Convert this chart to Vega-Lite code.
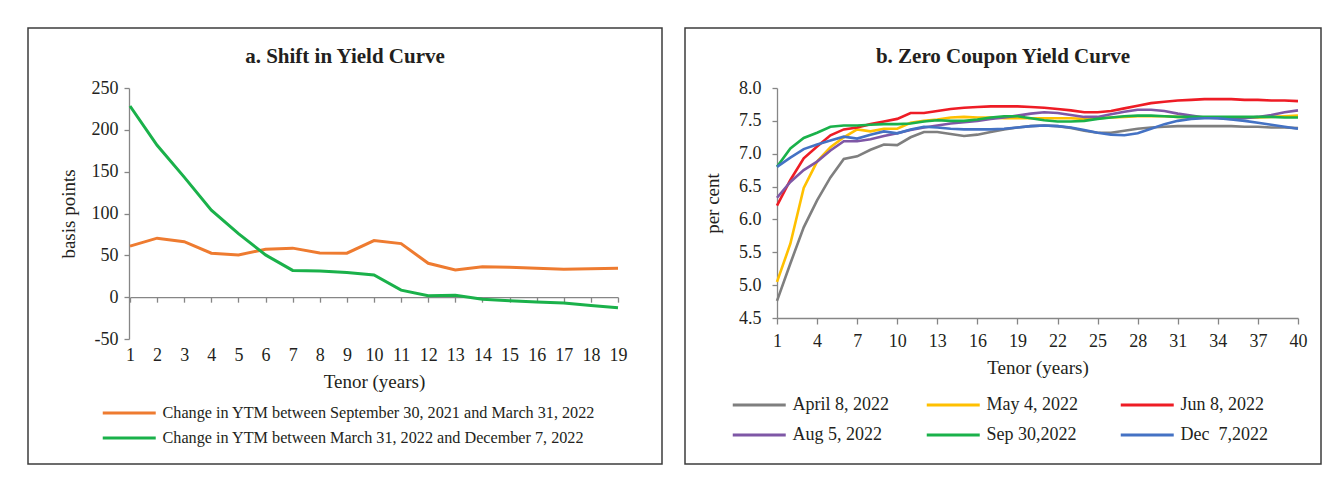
{
  "$schema": "https://vega.github.io/schema/vega-lite/v6.json",
  "background": "white",
  "padding": {"left": 27, "top": 27, "right": 0, "bottom": 0},
  "spacing": 21,
  "config": {
    "view": {"stroke": "#3c3c3c", "strokeWidth": 1.5},
    "font": "Liberation Serif",
    "axis": {"grid": false, "domainColor": "#868686", "tickColor": "#868686", "domainWidth": 1.3, "tickWidth": 1.3, "labelFont": "Liberation Serif", "labelFontSize": 18, "labelColor": "#231f20", "titleFont": "Liberation Serif", "titleFontSize": 19, "titleFontWeight": "normal", "titleColor": "#231f20", "labelFlush": false, "labelOverlap": false},
    "legend": {"labelFont": "Liberation Serif", "labelFontSize": 18, "labelColor": "#231f20", "symbolStrokeWidth": 3, "labelLimit": 600, "symbolType": "M-1,0H3", "symbolSize": 702, "symbolFillColor": "transparent", "labelOffset": 31.5},
    "title": {"font": "Liberation Serif", "fontSize": 21, "fontWeight": "bold", "color": "#231f20", "anchor": "middle", "frame": "group"}
  },
  "datasets": {
    "shift": [
      {"tenor": 1, "series": "Change in YTM between September 30, 2021 and March 31, 2022", "bps": 61},
      {"tenor": 2, "series": "Change in YTM between September 30, 2021 and March 31, 2022", "bps": 70.5},
      {"tenor": 3, "series": "Change in YTM between September 30, 2021 and March 31, 2022", "bps": 66.3},
      {"tenor": 4, "series": "Change in YTM between September 30, 2021 and March 31, 2022", "bps": 52.5},
      {"tenor": 5, "series": "Change in YTM between September 30, 2021 and March 31, 2022", "bps": 50.5},
      {"tenor": 6, "series": "Change in YTM between September 30, 2021 and March 31, 2022", "bps": 57.2},
      {"tenor": 7, "series": "Change in YTM between September 30, 2021 and March 31, 2022", "bps": 58.6},
      {"tenor": 8, "series": "Change in YTM between September 30, 2021 and March 31, 2022", "bps": 52.9},
      {"tenor": 9, "series": "Change in YTM between September 30, 2021 and March 31, 2022", "bps": 52.6},
      {"tenor": 10, "series": "Change in YTM between September 30, 2021 and March 31, 2022", "bps": 67.6},
      {"tenor": 11, "series": "Change in YTM between September 30, 2021 and March 31, 2022", "bps": 64},
      {"tenor": 12, "series": "Change in YTM between September 30, 2021 and March 31, 2022", "bps": 40.5},
      {"tenor": 13, "series": "Change in YTM between September 30, 2021 and March 31, 2022", "bps": 32.6},
      {"tenor": 14, "series": "Change in YTM between September 30, 2021 and March 31, 2022", "bps": 36.4},
      {"tenor": 15, "series": "Change in YTM between September 30, 2021 and March 31, 2022", "bps": 35.8},
      {"tenor": 16, "series": "Change in YTM between September 30, 2021 and March 31, 2022", "bps": 34.6},
      {"tenor": 17, "series": "Change in YTM between September 30, 2021 and March 31, 2022", "bps": 33.4},
      {"tenor": 18, "series": "Change in YTM between September 30, 2021 and March 31, 2022", "bps": 34.1},
      {"tenor": 19, "series": "Change in YTM between September 30, 2021 and March 31, 2022", "bps": 34.6},
      {"tenor": 1, "series": "Change in YTM between March 31, 2022 and December 7, 2022", "bps": 228.5},
      {"tenor": 2, "series": "Change in YTM between March 31, 2022 and December 7, 2022", "bps": 181.6},
      {"tenor": 3, "series": "Change in YTM between March 31, 2022 and December 7, 2022", "bps": 143.5},
      {"tenor": 4, "series": "Change in YTM between March 31, 2022 and December 7, 2022", "bps": 104},
      {"tenor": 5, "series": "Change in YTM between March 31, 2022 and December 7, 2022", "bps": 76},
      {"tenor": 6, "series": "Change in YTM between March 31, 2022 and December 7, 2022", "bps": 50.5},
      {"tenor": 7, "series": "Change in YTM between March 31, 2022 and December 7, 2022", "bps": 32},
      {"tenor": 8, "series": "Change in YTM between March 31, 2022 and December 7, 2022", "bps": 31.4},
      {"tenor": 9, "series": "Change in YTM between March 31, 2022 and December 7, 2022", "bps": 29.4},
      {"tenor": 10, "series": "Change in YTM between March 31, 2022 and December 7, 2022", "bps": 26.6},
      {"tenor": 11, "series": "Change in YTM between March 31, 2022 and December 7, 2022", "bps": 8.4},
      {"tenor": 12, "series": "Change in YTM between March 31, 2022 and December 7, 2022", "bps": 1.6},
      {"tenor": 13, "series": "Change in YTM between March 31, 2022 and December 7, 2022", "bps": 2.4},
      {"tenor": 14, "series": "Change in YTM between March 31, 2022 and December 7, 2022", "bps": -2.4},
      {"tenor": 15, "series": "Change in YTM between March 31, 2022 and December 7, 2022", "bps": -4.4},
      {"tenor": 16, "series": "Change in YTM between March 31, 2022 and December 7, 2022", "bps": -5.9},
      {"tenor": 17, "series": "Change in YTM between March 31, 2022 and December 7, 2022", "bps": -7.1},
      {"tenor": 18, "series": "Change in YTM between March 31, 2022 and December 7, 2022", "bps": -9.9},
      {"tenor": 19, "series": "Change in YTM between March 31, 2022 and December 7, 2022", "bps": -12.7}
    ],
    "zcyc": [
      {"t":1,"d":"April 8, 2022","y":4.76},{"t":2,"d":"April 8, 2022","y":5.33},{"t":3,"d":"April 8, 2022","y":5.88},{"t":4,"d":"April 8, 2022","y":6.29},{"t":5,"d":"April 8, 2022","y":6.64},{"t":6,"d":"April 8, 2022","y":6.92},{"t":7,"d":"April 8, 2022","y":6.96},{"t":8,"d":"April 8, 2022","y":7.06},{"t":9,"d":"April 8, 2022","y":7.14},{"t":10,"d":"April 8, 2022","y":7.13},
      {"t":11,"d":"April 8, 2022","y":7.25},{"t":12,"d":"April 8, 2022","y":7.33},{"t":13,"d":"April 8, 2022","y":7.33},{"t":14,"d":"April 8, 2022","y":7.3},{"t":15,"d":"April 8, 2022","y":7.27},{"t":16,"d":"April 8, 2022","y":7.29},{"t":17,"d":"April 8, 2022","y":7.33},{"t":18,"d":"April 8, 2022","y":7.37},{"t":19,"d":"April 8, 2022","y":7.4},{"t":20,"d":"April 8, 2022","y":7.42},
      {"t":21,"d":"April 8, 2022","y":7.43},{"t":22,"d":"April 8, 2022","y":7.42},{"t":23,"d":"April 8, 2022","y":7.39},{"t":24,"d":"April 8, 2022","y":7.35},{"t":25,"d":"April 8, 2022","y":7.32},{"t":26,"d":"April 8, 2022","y":7.32},{"t":27,"d":"April 8, 2022","y":7.35},{"t":28,"d":"April 8, 2022","y":7.38},{"t":29,"d":"April 8, 2022","y":7.4},{"t":30,"d":"April 8, 2022","y":7.41},
      {"t":31,"d":"April 8, 2022","y":7.42},{"t":32,"d":"April 8, 2022","y":7.42},{"t":33,"d":"April 8, 2022","y":7.42},{"t":34,"d":"April 8, 2022","y":7.42},{"t":35,"d":"April 8, 2022","y":7.42},{"t":36,"d":"April 8, 2022","y":7.41},{"t":37,"d":"April 8, 2022","y":7.41},{"t":38,"d":"April 8, 2022","y":7.4},{"t":39,"d":"April 8, 2022","y":7.4},{"t":40,"d":"April 8, 2022","y":7.39},

      {"t":1,"d":"May 4, 2022","y":5.05},{"t":2,"d":"May 4, 2022","y":5.63},{"t":3,"d":"May 4, 2022","y":6.48},{"t":4,"d":"May 4, 2022","y":6.88},{"t":5,"d":"May 4, 2022","y":7.1},{"t":6,"d":"May 4, 2022","y":7.25},{"t":7,"d":"May 4, 2022","y":7.37},{"t":8,"d":"May 4, 2022","y":7.34},{"t":9,"d":"May 4, 2022","y":7.38},{"t":10,"d":"May 4, 2022","y":7.38},
      {"t":11,"d":"May 4, 2022","y":7.47},{"t":12,"d":"May 4, 2022","y":7.5},{"t":13,"d":"May 4, 2022","y":7.52},{"t":14,"d":"May 4, 2022","y":7.55},{"t":15,"d":"May 4, 2022","y":7.56},{"t":16,"d":"May 4, 2022","y":7.55},{"t":17,"d":"May 4, 2022","y":7.55},{"t":18,"d":"May 4, 2022","y":7.54},{"t":19,"d":"May 4, 2022","y":7.54},{"t":20,"d":"May 4, 2022","y":7.54},
      {"t":21,"d":"May 4, 2022","y":7.54},{"t":22,"d":"May 4, 2022","y":7.54},{"t":23,"d":"May 4, 2022","y":7.54},{"t":24,"d":"May 4, 2022","y":7.53},{"t":25,"d":"May 4, 2022","y":7.54},{"t":26,"d":"May 4, 2022","y":7.55},{"t":27,"d":"May 4, 2022","y":7.56},{"t":28,"d":"May 4, 2022","y":7.57},{"t":29,"d":"May 4, 2022","y":7.57},{"t":30,"d":"May 4, 2022","y":7.57},
      {"t":31,"d":"May 4, 2022","y":7.56},{"t":32,"d":"May 4, 2022","y":7.55},{"t":33,"d":"May 4, 2022","y":7.55},{"t":34,"d":"May 4, 2022","y":7.55},{"t":35,"d":"May 4, 2022","y":7.55},{"t":36,"d":"May 4, 2022","y":7.55},{"t":37,"d":"May 4, 2022","y":7.55},{"t":38,"d":"May 4, 2022","y":7.56},{"t":39,"d":"May 4, 2022","y":7.57},{"t":40,"d":"May 4, 2022","y":7.58},

      {"t":1,"d":"Jun 8, 2022","y":6.21},{"t":2,"d":"Jun 8, 2022","y":6.6},{"t":3,"d":"Jun 8, 2022","y":6.93},{"t":4,"d":"Jun 8, 2022","y":7.11},{"t":5,"d":"Jun 8, 2022","y":7.28},{"t":6,"d":"Jun 8, 2022","y":7.37},{"t":7,"d":"Jun 8, 2022","y":7.4},{"t":8,"d":"Jun 8, 2022","y":7.45},{"t":9,"d":"Jun 8, 2022","y":7.49},{"t":10,"d":"Jun 8, 2022","y":7.53},
      {"t":11,"d":"Jun 8, 2022","y":7.62},{"t":12,"d":"Jun 8, 2022","y":7.62},{"t":13,"d":"Jun 8, 2022","y":7.65},{"t":14,"d":"Jun 8, 2022","y":7.68},{"t":15,"d":"Jun 8, 2022","y":7.7},{"t":16,"d":"Jun 8, 2022","y":7.71},{"t":17,"d":"Jun 8, 2022","y":7.72},{"t":18,"d":"Jun 8, 2022","y":7.72},{"t":19,"d":"Jun 8, 2022","y":7.72},{"t":20,"d":"Jun 8, 2022","y":7.71},
      {"t":21,"d":"Jun 8, 2022","y":7.7},{"t":22,"d":"Jun 8, 2022","y":7.68},{"t":23,"d":"Jun 8, 2022","y":7.66},{"t":24,"d":"Jun 8, 2022","y":7.63},{"t":25,"d":"Jun 8, 2022","y":7.63},{"t":26,"d":"Jun 8, 2022","y":7.65},{"t":27,"d":"Jun 8, 2022","y":7.69},{"t":28,"d":"Jun 8, 2022","y":7.73},{"t":29,"d":"Jun 8, 2022","y":7.77},{"t":30,"d":"Jun 8, 2022","y":7.79},
      {"t":31,"d":"Jun 8, 2022","y":7.81},{"t":32,"d":"Jun 8, 2022","y":7.82},{"t":33,"d":"Jun 8, 2022","y":7.83},{"t":34,"d":"Jun 8, 2022","y":7.83},{"t":35,"d":"Jun 8, 2022","y":7.83},{"t":36,"d":"Jun 8, 2022","y":7.82},{"t":37,"d":"Jun 8, 2022","y":7.82},{"t":38,"d":"Jun 8, 2022","y":7.81},{"t":39,"d":"Jun 8, 2022","y":7.81},{"t":40,"d":"Jun 8, 2022","y":7.8},

      {"t":1,"d":"Aug 5, 2022","y":6.33},{"t":2,"d":"Aug 5, 2022","y":6.57},{"t":3,"d":"Aug 5, 2022","y":6.75},{"t":4,"d":"Aug 5, 2022","y":6.88},{"t":5,"d":"Aug 5, 2022","y":7.05},{"t":6,"d":"Aug 5, 2022","y":7.19},{"t":7,"d":"Aug 5, 2022","y":7.19},{"t":8,"d":"Aug 5, 2022","y":7.22},{"t":9,"d":"Aug 5, 2022","y":7.27},{"t":10,"d":"Aug 5, 2022","y":7.31},
      {"t":11,"d":"Aug 5, 2022","y":7.36},{"t":12,"d":"Aug 5, 2022","y":7.4},{"t":13,"d":"Aug 5, 2022","y":7.43},{"t":14,"d":"Aug 5, 2022","y":7.46},{"t":15,"d":"Aug 5, 2022","y":7.48},{"t":16,"d":"Aug 5, 2022","y":7.5},{"t":17,"d":"Aug 5, 2022","y":7.53},{"t":18,"d":"Aug 5, 2022","y":7.55},{"t":19,"d":"Aug 5, 2022","y":7.58},{"t":20,"d":"Aug 5, 2022","y":7.61},
      {"t":21,"d":"Aug 5, 2022","y":7.63},{"t":22,"d":"Aug 5, 2022","y":7.62},{"t":23,"d":"Aug 5, 2022","y":7.59},{"t":24,"d":"Aug 5, 2022","y":7.56},{"t":25,"d":"Aug 5, 2022","y":7.56},{"t":26,"d":"Aug 5, 2022","y":7.6},{"t":27,"d":"Aug 5, 2022","y":7.64},{"t":28,"d":"Aug 5, 2022","y":7.67},{"t":29,"d":"Aug 5, 2022","y":7.67},{"t":30,"d":"Aug 5, 2022","y":7.65},
      {"t":31,"d":"Aug 5, 2022","y":7.61},{"t":32,"d":"Aug 5, 2022","y":7.58},{"t":33,"d":"Aug 5, 2022","y":7.55},{"t":34,"d":"Aug 5, 2022","y":7.54},{"t":35,"d":"Aug 5, 2022","y":7.53},{"t":36,"d":"Aug 5, 2022","y":7.54},{"t":37,"d":"Aug 5, 2022","y":7.56},{"t":38,"d":"Aug 5, 2022","y":7.59},{"t":39,"d":"Aug 5, 2022","y":7.63},{"t":40,"d":"Aug 5, 2022","y":7.66},

      {"t":1,"d":"Sep 30,2022","y":6.8},{"t":2,"d":"Sep 30,2022","y":7.08},{"t":3,"d":"Sep 30,2022","y":7.24},{"t":4,"d":"Sep 30,2022","y":7.32},{"t":5,"d":"Sep 30,2022","y":7.41},{"t":6,"d":"Sep 30,2022","y":7.43},{"t":7,"d":"Sep 30,2022","y":7.43},{"t":8,"d":"Sep 30,2022","y":7.44},{"t":9,"d":"Sep 30,2022","y":7.45},{"t":10,"d":"Sep 30,2022","y":7.45},
      {"t":11,"d":"Sep 30,2022","y":7.46},{"t":12,"d":"Sep 30,2022","y":7.49},{"t":13,"d":"Sep 30,2022","y":7.51},{"t":14,"d":"Sep 30,2022","y":7.5},{"t":15,"d":"Sep 30,2022","y":7.5},{"t":16,"d":"Sep 30,2022","y":7.52},{"t":17,"d":"Sep 30,2022","y":7.55},{"t":18,"d":"Sep 30,2022","y":7.57},{"t":19,"d":"Sep 30,2022","y":7.57},{"t":20,"d":"Sep 30,2022","y":7.54},
      {"t":21,"d":"Sep 30,2022","y":7.51},{"t":22,"d":"Sep 30,2022","y":7.49},{"t":23,"d":"Sep 30,2022","y":7.49},{"t":24,"d":"Sep 30,2022","y":7.5},{"t":25,"d":"Sep 30,2022","y":7.53},{"t":26,"d":"Sep 30,2022","y":7.55},{"t":27,"d":"Sep 30,2022","y":7.57},{"t":28,"d":"Sep 30,2022","y":7.58},{"t":29,"d":"Sep 30,2022","y":7.58},{"t":30,"d":"Sep 30,2022","y":7.57},
      {"t":31,"d":"Sep 30,2022","y":7.56},{"t":32,"d":"Sep 30,2022","y":7.56},{"t":33,"d":"Sep 30,2022","y":7.56},{"t":34,"d":"Sep 30,2022","y":7.56},{"t":35,"d":"Sep 30,2022","y":7.56},{"t":36,"d":"Sep 30,2022","y":7.56},{"t":37,"d":"Sep 30,2022","y":7.56},{"t":38,"d":"Sep 30,2022","y":7.56},{"t":39,"d":"Sep 30,2022","y":7.55},{"t":40,"d":"Sep 30,2022","y":7.55},

      {"t":1,"d":"Dec  7,2022","y":6.8},{"t":2,"d":"Dec  7,2022","y":6.94},{"t":3,"d":"Dec  7,2022","y":7.07},{"t":4,"d":"Dec  7,2022","y":7.14},{"t":5,"d":"Dec  7,2022","y":7.2},{"t":6,"d":"Dec  7,2022","y":7.26},{"t":7,"d":"Dec  7,2022","y":7.23},{"t":8,"d":"Dec  7,2022","y":7.29},{"t":9,"d":"Dec  7,2022","y":7.34},{"t":10,"d":"Dec  7,2022","y":7.31},
      {"t":11,"d":"Dec  7,2022","y":7.37},{"t":12,"d":"Dec  7,2022","y":7.41},{"t":13,"d":"Dec  7,2022","y":7.4},{"t":14,"d":"Dec  7,2022","y":7.38},{"t":15,"d":"Dec  7,2022","y":7.37},{"t":16,"d":"Dec  7,2022","y":7.37},{"t":17,"d":"Dec  7,2022","y":7.37},{"t":18,"d":"Dec  7,2022","y":7.38},{"t":19,"d":"Dec  7,2022","y":7.4},{"t":20,"d":"Dec  7,2022","y":7.42},
      {"t":21,"d":"Dec  7,2022","y":7.43},{"t":22,"d":"Dec  7,2022","y":7.42},{"t":23,"d":"Dec  7,2022","y":7.4},{"t":24,"d":"Dec  7,2022","y":7.36},{"t":25,"d":"Dec  7,2022","y":7.32},{"t":26,"d":"Dec  7,2022","y":7.29},{"t":27,"d":"Dec  7,2022","y":7.28},{"t":28,"d":"Dec  7,2022","y":7.31},{"t":29,"d":"Dec  7,2022","y":7.38},{"t":30,"d":"Dec  7,2022","y":7.45},
      {"t":31,"d":"Dec  7,2022","y":7.5},{"t":32,"d":"Dec  7,2022","y":7.53},{"t":33,"d":"Dec  7,2022","y":7.54},{"t":34,"d":"Dec  7,2022","y":7.54},{"t":35,"d":"Dec  7,2022","y":7.52},{"t":36,"d":"Dec  7,2022","y":7.5},{"t":37,"d":"Dec  7,2022","y":7.47},{"t":38,"d":"Dec  7,2022","y":7.44},{"t":39,"d":"Dec  7,2022","y":7.41},{"t":40,"d":"Dec  7,2022","y":7.38}
    ]
  },
  "resolve": {"scale": {"color": "independent", "x": "independent", "y": "independent"}, "legend": {"color": "independent"}},
  "hconcat": [
    {
      "width": 634,
      "height": 436,
      "title": {"text": "a. Shift in Yield Curve", "offset": -39},
      "data": {"name": "shift"},
      "mark": {"type": "line", "strokeWidth": 3},
      "encoding": {
        "x": {"field": "tenor", "type": "quantitative",
          "scale": {"domain": [1, 19], "range": [102, 590], "nice": false, "zero": false},
          "axis": {"offset": -166.83, "values": [1,2,3,4,5,6,7,8,9,10,11,12,13,14,15,16,17,18,19], "tickSize": 5, "labelPadding": 44, "title": "Tenor (years)", "titlePadding": 8}},
        "y": {"field": "bps", "type": "quantitative",
          "scale": {"domain": [-50, 250], "range": [311, 60], "nice": false, "zero": false},
          "axis": {"offset": -101, "values": [-50, 0, 50, 100, 150, 200, 250], "labelExpr": "replace(datum.label, '\u2212', '-')", "tickSize": 5, "labelPadding": 6, "title": "basis points", "titlePadding": 13}},
        "color": {"field": "series", "type": "nominal",
          "scale": {"domain": ["Change in YTM between September 30, 2021 and March 31, 2022", "Change in YTM between March 31, 2022 and December 7, 2022"], "range": ["#ee7b30", "#1ab14a"]},
          "legend": {"title": null, "orient": "none", "legendX": 73, "legendY": 370, "rowPadding": 1, "labelFontSize": 16.2}}
      }
    },
    {
      "width": 636,
      "height": 436,
      "title": {"text": "b. Zero Coupon Yield Curve", "offset": -39},
      "data": {"name": "zcyc"},
      "mark": {"type": "line", "strokeWidth": 2.6},
      "encoding": {
        "x": {"field": "t", "type": "quantitative",
          "scale": {"domain": [1, 40], "range": [92, 613], "nice": false, "zero": false},
          "axis": {"offset": -146, "values": [1,4,7,10,13,16,19,22,25,28,31,34,37,40], "tickSize": 6, "labelPadding": 8, "title": "Tenor (years)", "titlePadding": 8}},
        "y": {"field": "y", "type": "quantitative",
          "scale": {"domain": [4.5, 8.0], "range": [290, 60], "nice": false, "zero": false},
          "axis": {"offset": -92, "values": [4.5,5.0,5.5,6.0,6.5,7.0,7.5,8.0], "format": ".1f", "tickSize": 5, "labelPadding": 11, "title": "per cent", "titlePadding": 16}},
        "color": {"field": "d", "type": "nominal",
          "scale": {"domain": ["April 8, 2022", "Aug 5, 2022", "May 4, 2022", "Sep 30,2022", "Jun 8, 2022", "Dec  7,2022"], "range": ["#7f7f7f", "#7e57a6", "#ffc000", "#1ab14a", "#ee1c25", "#4472c4"]},
          "legend": {"title": null, "orient": "none", "legendX": 46, "legendY": 362, "columns": 3, "gridAlign": "all", "columnPadding": 31, "rowPadding": 6, "labelExpr": "replace(datum.label, '  ', ' \u00a0')"}}
      }
    }
  ]
}
